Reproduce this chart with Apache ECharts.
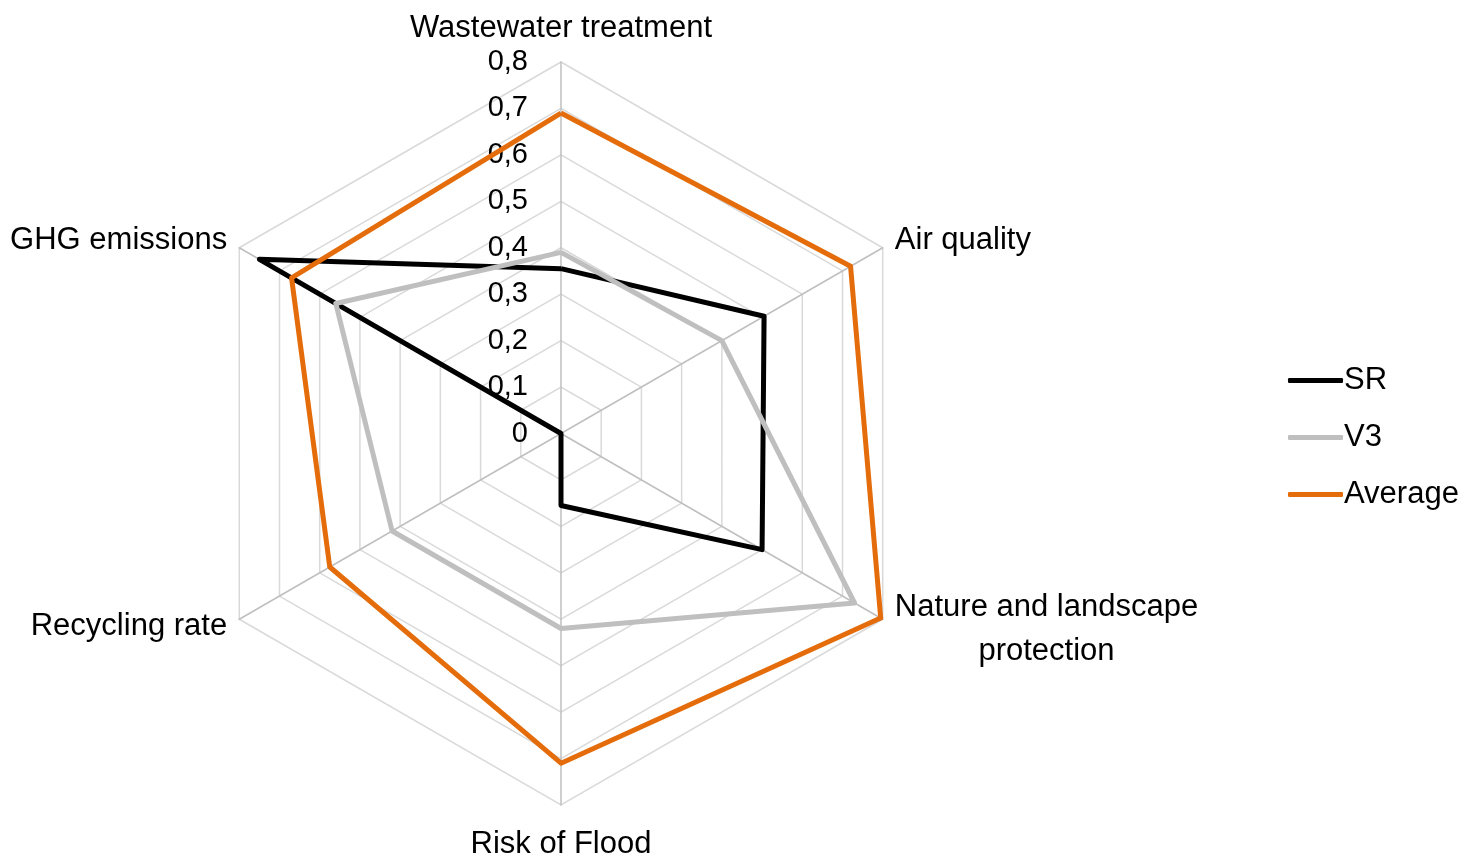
<!DOCTYPE html>
<html>
<head>
<meta charset="utf-8">
<script src="https://cdn.jsdelivr.net/npm/echarts@6/dist/echarts.min.js"></script>
<style>
  html, body { margin: 0; padding: 0; background: #fff; }
  #chart { width: 1470px; height: 863px; }
</style>
</head>
<body>
<div id="chart"></div>
<script>
// indicators in counterclockwise order starting from the top
const indicatorNames = ["Wastewater treatment", "GHG emissions", "Recycling rate", "Risk of Flood", "Nature and landscape protection", "Air quality"];
const seriesNames = ["SR", "V3", "Average"];
const srValues = [0.355, 0.75, 0, 0.155, 0.50, 0.505];
const v3Values = [0.39, 0.56, 0.42, 0.42, 0.73, 0.40];
const avgValues = [0.69, 0.67, 0.575, 0.71, 0.795, 0.72];
const axisMax = 0.8;

const font = "'Liberation Sans', Arial, sans-serif";
const colors = ["#000000", "#bfbfbf", "#e46c0a"];
// small per-axis tweaks of the name distance
const nameGaps = [18, 14, 14, 24, 14, 14];

const chart = echarts.init(document.getElementById("chart"));

const indicator = indicatorNames.map((n, i) => {
  const item = { name: n, max: axisMax, min: 0, nameGap: nameGaps[i] };
  // tick labels only on the first (top) axis
  if (i === 0) {
    item.axisLabel = {
      show: true,
      fontFamily: font,
      fontSize: 29,
      color: "#000",
      margin: 33,
      formatter: v => String(Math.round(v * 10) / 10).replace(".", ",")
    };
  }
  return item;
});

chart.setOption({
  animation: false,
  color: colors,
  legend: {
    orient: "vertical",
    left: 1283,
    top: 360,
    itemWidth: 55,
    itemHeight: 5,
    itemGap: 26,
    icon: "roundRect",
    textStyle: { fontFamily: font, fontSize: 31, color: "#000", padding: [0, 0, 0, -4] },
    data: seriesNames
  },
  radar: {
    center: [561, 433.5],
    radius: 371.5,
    startAngle: 90,
    splitNumber: 8,
    shape: "polygon",
    indicator: indicator,
    nameGap: 14,
    axisName: {
      color: "#000",
      fontFamily: font,
      fontSize: 31,
      formatter: n => n === "Nature and landscape protection"
        ? "{c|Nature and landscape}\n{c|protection}"
        : n,
      rich: { c: { align: "center", fontFamily: font, fontSize: 31, color: "#000", lineHeight: 44, padding: [6, 0, 0, 0] } }
    },
    axisLine: { lineStyle: { color: "#bfbfbf", width: 1.5 } },
    splitLine: { lineStyle: { color: "#d9d9d9", width: 1.5 } },
    splitArea: { show: false },
    axisTick: { show: false },
    axisLabel: { show: false }
  },
  series: [{
    type: "radar",
    symbol: "none",
    lineStyle: { width: 5 },
    data: [
      { name: seriesNames[0], value: srValues, lineStyle: { color: colors[0], width: 5 }, itemStyle: { color: colors[0] } },
      { name: seriesNames[1], value: v3Values, lineStyle: { color: colors[1], width: 5 }, itemStyle: { color: colors[1] } },
      { name: seriesNames[2], value: avgValues, lineStyle: { color: colors[2], width: 5 }, itemStyle: { color: colors[2] } }
    ]
  }]
});
</script>
</body>
</html>
